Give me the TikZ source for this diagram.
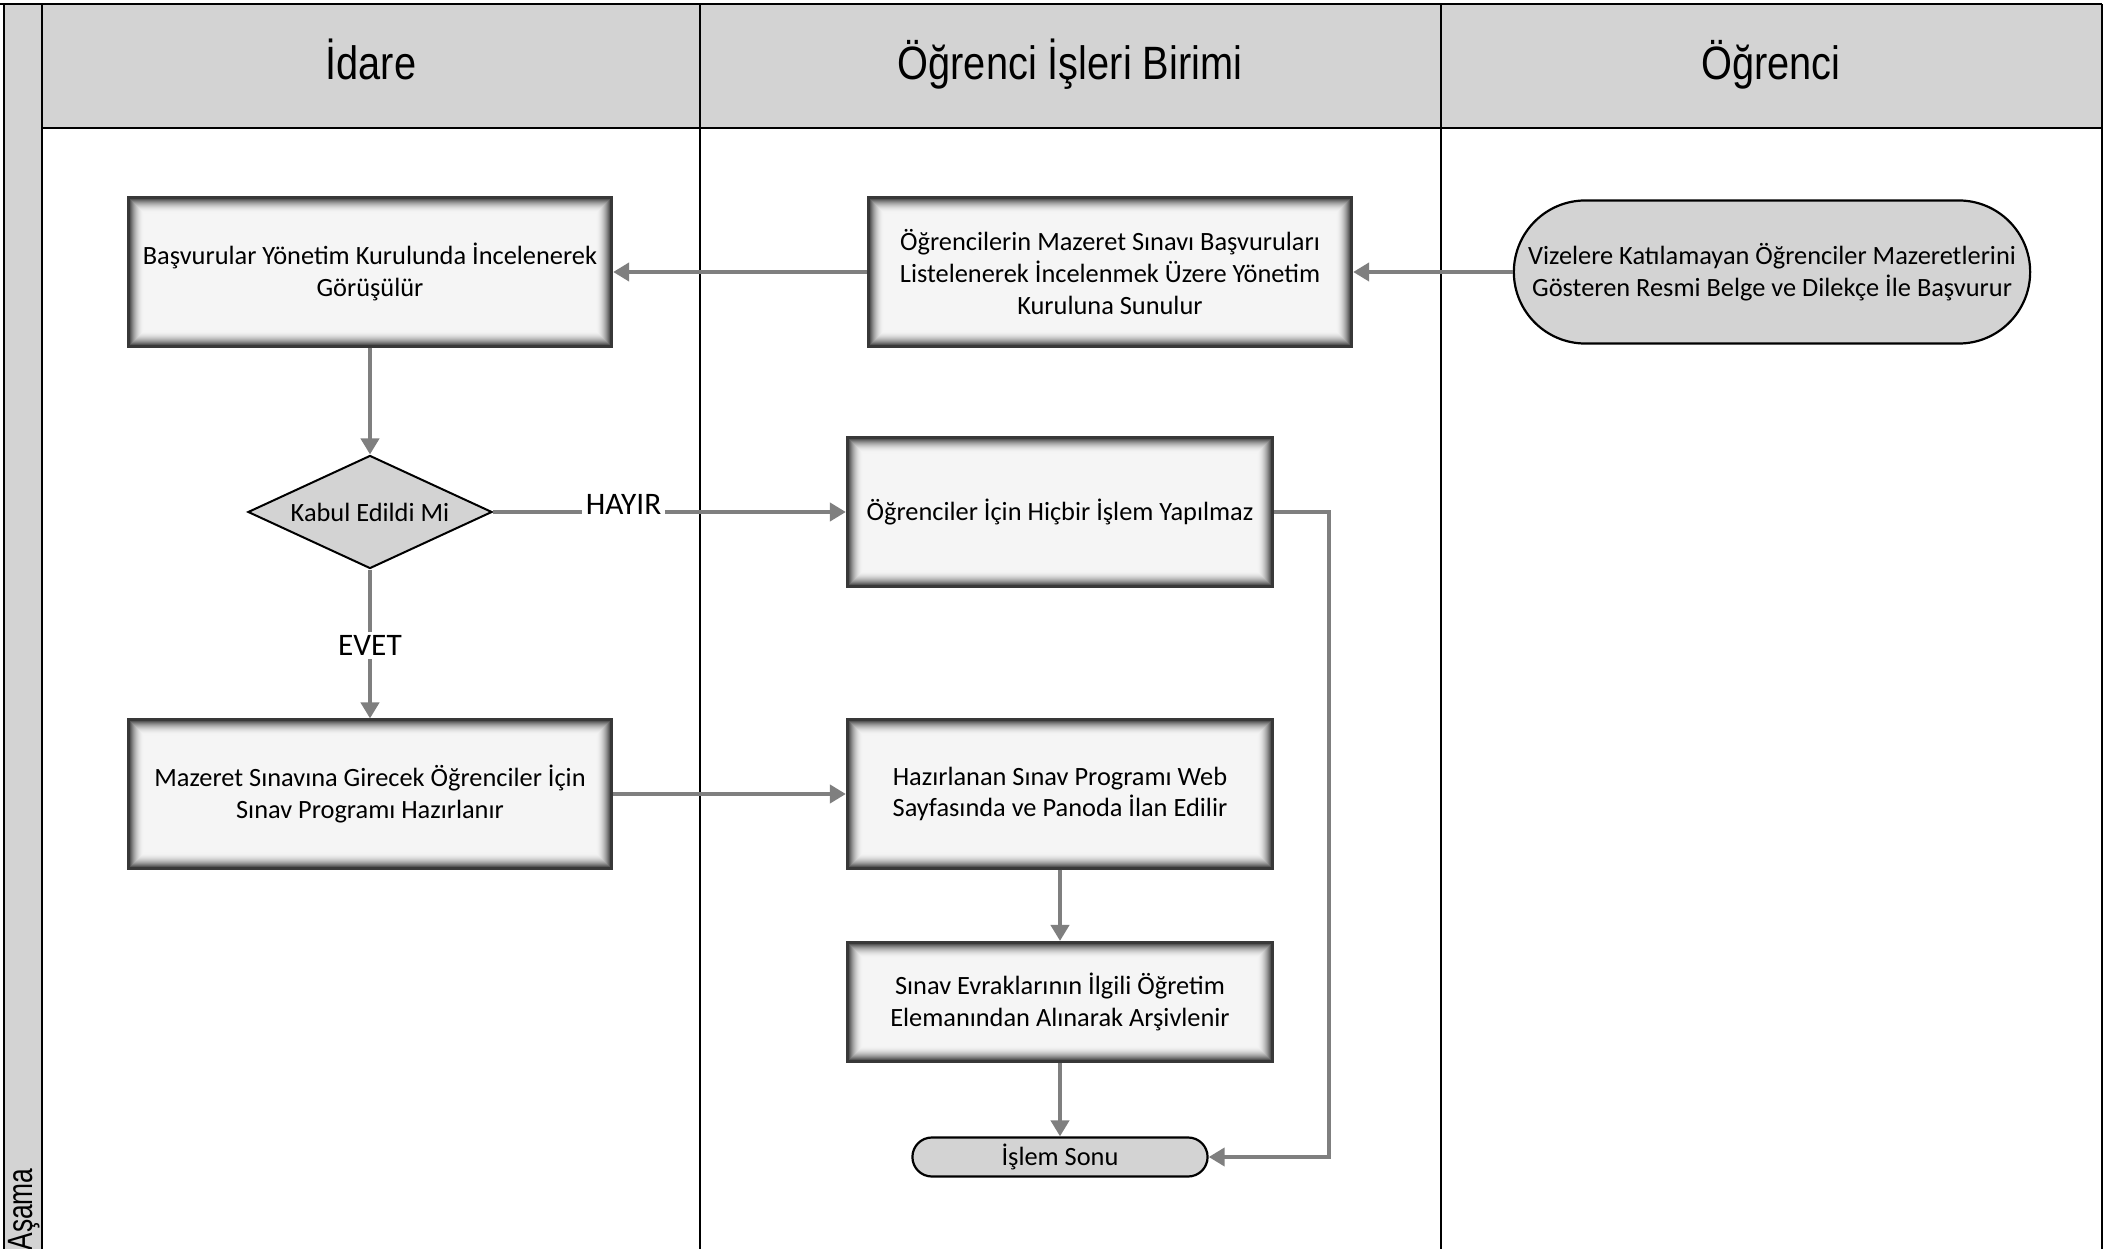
\documentclass[tikz,border=0pt]{standalone}
\usepackage{fontspec}
\setmainfont{Carlito}
\newfontfamily\headfont{Liberation Sans}
\usetikzlibrary{arrows.meta,shapes.geometric,calc}
\definecolor{lanegray}{HTML}{D3D3D3}
\definecolor{boxfill}{HTML}{F5F5F5}
\definecolor{boxedge}{HTML}{383838}
\definecolor{linkgray}{HTML}{7F7F7F}
\newcommand{\narrowtxt}[2]{\scalebox{#1}[1]{#2}}
\begin{document}
\begin{tikzpicture}[x=0.01cm,y=-0.01cm,
  every node/.style={font=\fontsize{7.5}{9}\selectfont},
  procbox/.style={draw=boxedge, line width=0.03cm, fill=boxfill, align=center, inner sep=0pt,
    path picture={
      \foreach \k in {0,...,15}{
        \pgfmathsetmacro{\mylev}{85*(1-\k/16)^2}
        \draw[draw=black!\mylev!boxfill, line width=0.012cm]
          ([xshift=\k*0.01cm, yshift=\k*0.01cm]path picture bounding box.south west)
          rectangle ([xshift=-\k*0.01cm, yshift=-\k*0.01cm]path picture bounding box.north east);
      }
    }},
  term/.style={draw=black, line width=0.022cm, fill=lanegray, align=center, inner sep=0pt},
  decision/.style={diamond, aspect=2.16, draw=black, line width=0.02cm, fill=lanegray, inner sep=0pt,
    minimum width=2.44cm, minimum height=1.13cm},
  link/.style={draw=linkgray, line width=0.04cm, -{Triangle[length=0.16cm,width=0.18cm]}},
  lane/.style={draw=black, line width=0.025cm},
  lanehead/.style={anchor=base, font=\headfont\fontsize{13.3}{15}\selectfont},
  sidehead/.style={font=\headfont\fontsize{10}{12}\selectfont},
  lbl/.style={fill=white, inner sep=1pt, font=\fontsize{8.9}{10.5}\selectfont}
]
\useasboundingbox (0,0) rectangle (2114,1249);
% swimlane frame
\fill[lanegray] (4,4) rectangle (2102,128);
\fill[lanegray] (4,4) rectangle (42,1249);
\draw[lane] (0,4) -- (2102,4);
\draw[lane] (4,4) -- (4,1249);
\draw[lane] (42,4) -- (42,1249);
\draw[lane] (42,128) -- (2102,128);
\draw[lane] (700,4) -- (700,1249);
\draw[lane] (1441,4) -- (1441,1249);
\draw[lane] (2102,4) -- (2102,1249);
\node[lanehead] (h1) at (371,80) {\narrowtxt{0.85}{İdare}};
\node[lanehead] (h2) at (1070,80) {\narrowtxt{0.85}{Öğrenci İşleri Birimi}};
\node[lanehead] (h3) at (1771,80) {\narrowtxt{0.85}{Öğrenci}};
\node[sidehead, rotate=90, anchor=east] (asama) at (24,1156) {\narrowtxt{0.75}{Aşama}};
% nodes
\node[procbox, minimum width=4.83cm, minimum height=1.48cm] (b1) at (370,272)
  {Başvurular Yönetim Kurulunda İncelenerek\\Görüşülür};
\node[procbox, minimum width=4.83cm, minimum height=1.48cm] (b2) at (1110,272)
  {Öğrencilerin Mazeret Sınavı Başvuruları\\Listelenerek İncelenmek Üzere Yönetim\\Kuruluna Sunulur};
\node[term, minimum width=5.16cm, minimum height=1.43cm, rounded corners=0.715cm] (st) at (1772,272)
  {Vizelere Katılamayan Öğrenciler Mazeretlerini\\Gösteren Resmi Belge ve Dilekçe İle Başvurur};
\node[decision] (dec) at (370,512) {Kabul Edildi Mi};
\node[procbox, minimum width=4.25cm, minimum height=1.48cm] (b5) at (1060,512)
  {Öğrenciler İçin Hiçbir İşlem Yapılmaz};
\node[procbox, minimum width=4.83cm, minimum height=1.48cm] (b6) at (370,794)
  {Mazeret Sınavına Girecek Öğrenciler İçin\\Sınav Programı Hazırlanır};
\node[procbox, minimum width=4.25cm, minimum height=1.48cm] (b7) at (1060,794)
  {Hazırlanan Sınav Programı Web\\Sayfasında ve Panoda İlan Edilir};
\node[procbox, minimum width=4.25cm, minimum height=1.19cm] (b8) at (1060,1002)
  {Sınav Evraklarının İlgili Öğretim\\Elemanından Alınarak Arşivlenir};
\node[term, minimum width=2.95cm, minimum height=0.39cm, rounded corners=0.195cm] (en) at (1060,1157)
  {İşlem Sonu};
% connectors
\draw[link] (st.west) -- (b2.east);
\draw[link] (b2.west) -- (b1.east);
\draw[link] (b1.south) -- (dec.north);
\draw[link] (dec.east) -- node[lbl, pos=0.37, yshift=0.08cm] {HAYIR} (b5.west);
\draw[link] (dec.south) -- node[lbl, pos=0.51] {EVET} (b6.north);
\draw[link] (b6.east) -- (b7.west);
\draw[link] (b7.south) -- (b8.north);
\draw[link] (b8.south) -- (en.north);
\draw[link] (b5.east) -- ++(55,0) |- (en.east);
\end{tikzpicture}
\end{document}
